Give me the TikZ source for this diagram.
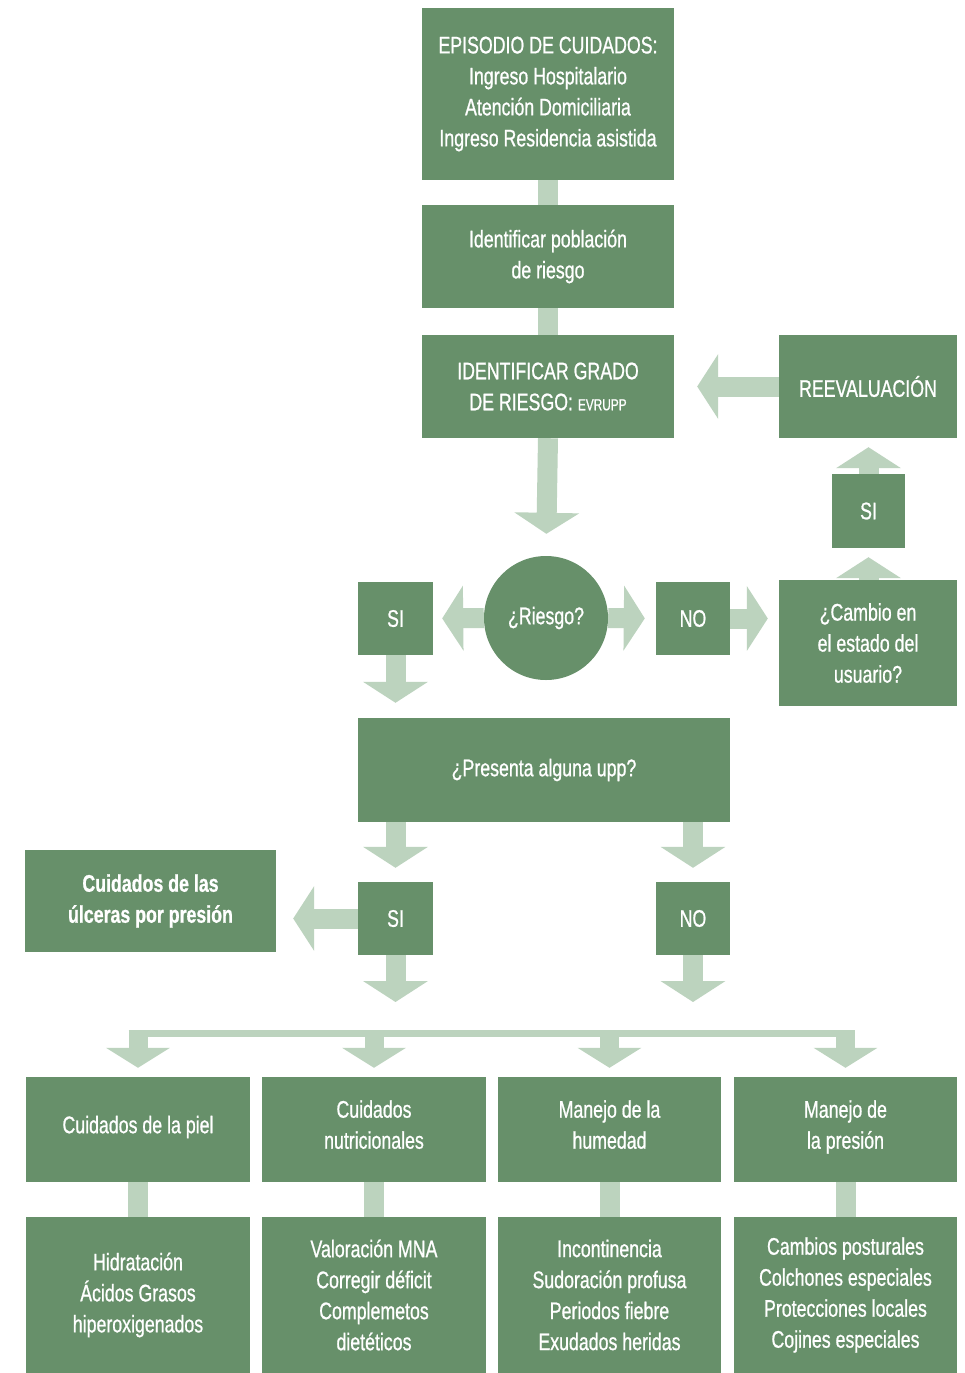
\documentclass[tikz,border=0pt]{standalone}
\usepackage{fontspec}
\setmainfont[FakeStretch=0.74,FakeBold=0.8]{Liberation Sans}
\usetikzlibrary{arrows.meta}
\definecolor{dg}{HTML}{67906A}
\definecolor{lg}{HTML}{BCD3BE}
\begin{document}
\begin{tikzpicture}[x=1pt,y=-1pt,
  box/.style={fill=dg,text=white,inner sep=0pt,align=center,font=\fontsize{24}{31}\selectfont},
  bar/.style={draw=lg,line width=20pt},
  arr/.style={draw=lg,line width=20pt,-{Triangle[width=64pt,length=21pt]}},
  barrow/.style={draw=lg,line width=19pt,-{Triangle[width=63pt,length=20pt]}}]
\fill[white] (0,0) rectangle (964,1373);
% nodes
\node[box,minimum width=252pt,minimum height=172pt] (b1) at (548,94)
  {EPISODIO DE CUIDADOS:\\Ingreso Hospitalario\\Atención Domiciliaria\\Ingreso Residencia asistida};
\node[box,minimum width=252pt,minimum height=103pt] (b2) at (548,256.5)
  {Identificar población\\de riesgo};
\node[box,minimum width=252pt,minimum height=103pt] (b3) at (548,386.5)
  {IDENTIFICAR GRADO\\DE RIESGO: {\fontsize{16}{16}\selectfont EVRUPP}};
\node[box,circle,minimum size=124pt] (risk) at (546,618) {¿Riesgo?};
\node[box,minimum width=75pt,minimum height=73pt] (si1) at (395.5,618.5) {SI};
\node[box,minimum width=74pt,minimum height=73pt] (no1) at (693,618.5) {NO};
\node[box,minimum width=178pt,minimum height=126pt] (cambio) at (868,643)
  {¿Cambio en\\el estado del\\usuario?};
\node[box,minimum width=73pt,minimum height=74pt] (si2) at (868.5,511) {SI};
\node[box,minimum width=178pt,minimum height=103pt] (reev) at (868,386.5) {REEVALUACIÓN};
\node[box,minimum width=372pt,minimum height=104pt] (pres) at (544,770) {¿Presenta alguna upp?};
\node[box,minimum width=75pt,minimum height=73pt] (si3) at (395.5,918.5) {SI};
\node[box,minimum width=74pt,minimum height=73pt] (no3) at (693,918.5) {NO};
\node[box,minimum width=251pt,minimum height=102pt,font=\fontsize{24}{31}\selectfont\bfseries] (ulc) at (150.5,901)
  {Cuidados de las\\úlceras por presión};
% top row
\node[box,minimum width=224pt,minimum height=105pt,text depth=10pt] (r1) at (138,1129.5) {Cuidados de la piel};
\node[box,minimum width=224pt,minimum height=105pt,text depth=10pt] (r2) at (374,1129.5) {Cuidados\\nutricionales};
\node[box,minimum width=223pt,minimum height=105pt,text depth=10pt] (r3) at (609.5,1129.5) {Manejo de la\\humedad};
\node[box,minimum width=223pt,minimum height=105pt,text depth=10pt] (r4) at (845.5,1129.5) {Manejo de\\la presión};
% bottom row
\node[box,minimum width=224pt,minimum height=156pt] (d1) at (138,1295) {Hidratación\\Ácidos Grasos\\hiperoxigenados};
\node[box,minimum width=224pt,minimum height=156pt] (d2) at (374,1295) {Valoración MNA\\Corregir déficit\\Complemetos\\dietéticos};
\node[box,minimum width=223pt,minimum height=156pt] (d3) at (609.5,1295) {Incontinencia\\Sudoración profusa\\Periodos fiebre\\Exudados heridas};
\node[box,minimum width=223pt,minimum height=156pt] (d4) at (845.5,1295) {Cambios posturales\\Colchones especiales\\Protecciones locales\\Cojines especiales};
% coordinates
\coordinate (si3end) at (395.5,1002);
\coordinate (no3end) at (693,1002);
\coordinate (busL) at (128.5,1033.5);
\coordinate (busR) at (855,1033.5);
% connectors
\draw[bar] (b1) -- (b2);
\draw[bar] (b2) -- (b3);
\draw[bar] (r1) -- (d1);
\draw[bar] (r2) -- (d2);
\draw[bar] (r3) -- (d3);
\draw[bar] (r4) -- (d4);
\draw[arr,shorten >=22pt] (b3.south) -- (risk.north);
\draw[arr,shorten >=9pt] (risk.west) -- (si1.east);
\draw[arr,shorten >=11pt] (risk.east) -- (no1.west);
\draw[arr,shorten >=11pt] (no1.east) -- (no1.east -| cambio.west);
\draw[arr,shorten >=9pt] (cambio.north -| si2.south) -- (si2.south);
\draw[arr,shorten >=9pt] (si2.north) -- (si2.north |- reev.south);
\draw[arr,shorten >=23pt] (reev.west) -- (reev.west -| b3.east);
\draw[arr,shorten >=15pt] (si1.south) -- (si1.south |- pres.north);
\draw[arr,shorten >=14pt] (pres.south -| si3.north) -- (si3.north);
\draw[arr,shorten >=14pt] (pres.south -| no3.north) -- (no3.north);
\draw[arr,shorten >=17pt] (si3.west) -- (si3.west -| ulc.east);
\draw[arr] (si3.south) -- (si3end);
\draw[arr] (no3.south) -- (no3end);
\draw[draw=lg,line width=7pt] (busL) -- (busR);
\foreach \r in {r1,r2,r3,r4}{
  \draw[barrow,shorten >=9pt] (busL -| \r.north) -- (\r.north);
}
\end{tikzpicture}
\end{document}
